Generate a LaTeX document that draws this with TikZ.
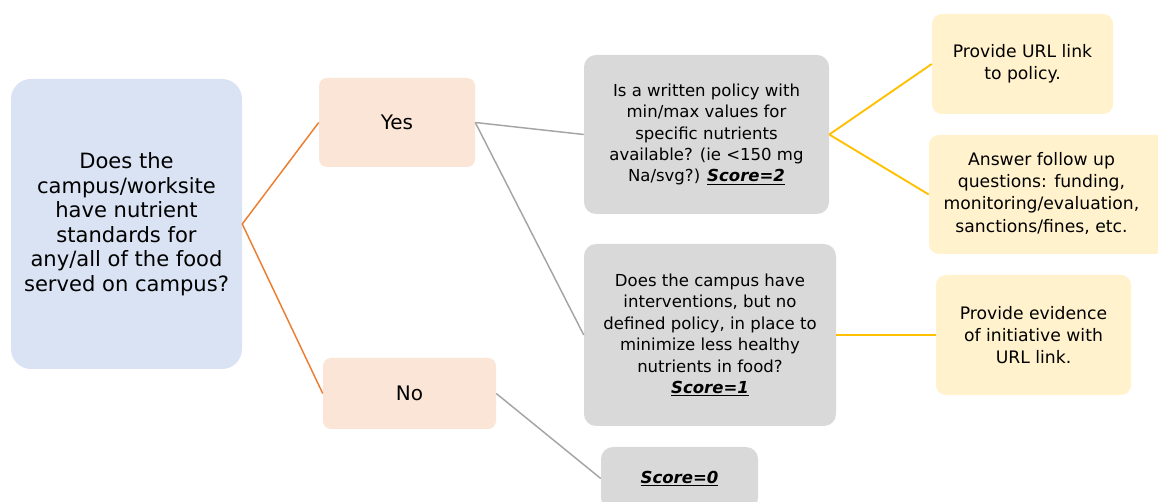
\documentclass[tikz,border=0pt]{standalone}
\usepackage{fontspec}
\setmainfont{DejaVu Sans}
\definecolor{mainblue}{HTML}{DAE3F3}
\definecolor{peach}{HTML}{FBE5D6}
\definecolor{grayfill}{HTML}{D9D9D9}
\definecolor{yellowfill}{HTML}{FFF2CC}
\definecolor{orangeline}{HTML}{ED7D31}
\definecolor{grayline}{HTML}{A5A5A5}
\definecolor{yellowline}{HTML}{FFC000}
\newcommand{\scoretxt}[1]{\underline{\textbf{\textit{#1}}}}
\tikzset{
  base/.style={inner sep=0pt, align=center, text=black},
  mainbox/.style={base, fill=mainblue, rounded corners=15pt, font=\fontsize{15.8}{18.4}\selectfont},
  ansbox/.style={base, fill=peach, rounded corners=6pt, font=\fontsize{15}{18}\selectfont},
  qbox/.style={base, fill=grayfill, rounded corners=9pt, font=\fontsize{12.4}{16.1}\selectfont},
  infobox/.style={base, fill=yellowfill, rounded corners=7.5pt, font=\fontsize{12.9}{16.6}\selectfont},
  oline/.style={draw=orangeline, line width=1.1pt},
  gline/.style={draw=grayline, line width=1.1pt},
  yline/.style={draw=yellowline, line width=1.4pt}
}
\begin{document}
\begin{tikzpicture}[x=0.75pt,y=-0.75pt]
\useasboundingbox (0,0) rectangle (1158,502);
\fill[white] (0,0) rectangle (1158,502);

\node[mainbox, minimum width=173.25pt, minimum height=217.5pt] (main) at (126.5,224)
  {Does the\\campus/worksite\\have nutrient\\standards for\\any/all of the food\\served on campus?};

\node[ansbox, minimum width=117pt, minimum height=66.75pt] (yes) at (397,122.5) {Yes};
\node[ansbox, minimum width=129.75pt, minimum height=53.25pt] (no) at (409.5,393.5) {No};

\node[qbox, minimum width=183.75pt, minimum height=119.25pt] (policy) at (706.5,134.5)
  {Is a written policy with\\min/max values for\\specific nutrients\\available? (ie <150 mg\\Na/svg?) \scoretxt{Score=2}};
\node[qbox, minimum width=189pt, minimum height=136.5pt] (interv) at (710,335)
  {Does the campus have\\interventions, but no\\defined policy, in place to\\minimize less healthy\\nutrients in food?\\\scoretxt{Score=1}};
\node[qbox, minimum width=117.75pt, minimum height=47.25pt] (score0) at (679.5,478.5)
  {\scoretxt{Score=0}};

\node[infobox, minimum width=135.75pt, minimum height=75pt] (url) at (1022.5,64)
  {Provide URL link\\to policy.};
\node[infobox, minimum width=180.75pt, minimum height=89.25pt] (answer) at (1049.5,194.5)
  {\hspace*{-12pt}\begin{tabular}{@{}c@{}}Answer follow up\\questions: funding,\\monitoring/evaluation,\\sanctions/fines, etc.\end{tabular}};
\node[infobox, minimum width=146.25pt, minimum height=90pt] (evid) at (1033.5,335)
  {Provide evidence\\of initiative with\\URL link.};

\draw[oline] (main.east) -- (yes.west);
\draw[oline] (main.east) -- (no.west);
\draw[gline] (yes.east) -- (policy.west);
\draw[gline] (yes.east) -- (interv.west);
\draw[gline] (no.east) -- (score0.west);
\draw[yline] (policy.east) -- (url.west);
\draw[yline] (policy.east) -- (answer.west);
\draw[yline] (interv.east) -- (evid.west);
\end{tikzpicture}
\end{document}
